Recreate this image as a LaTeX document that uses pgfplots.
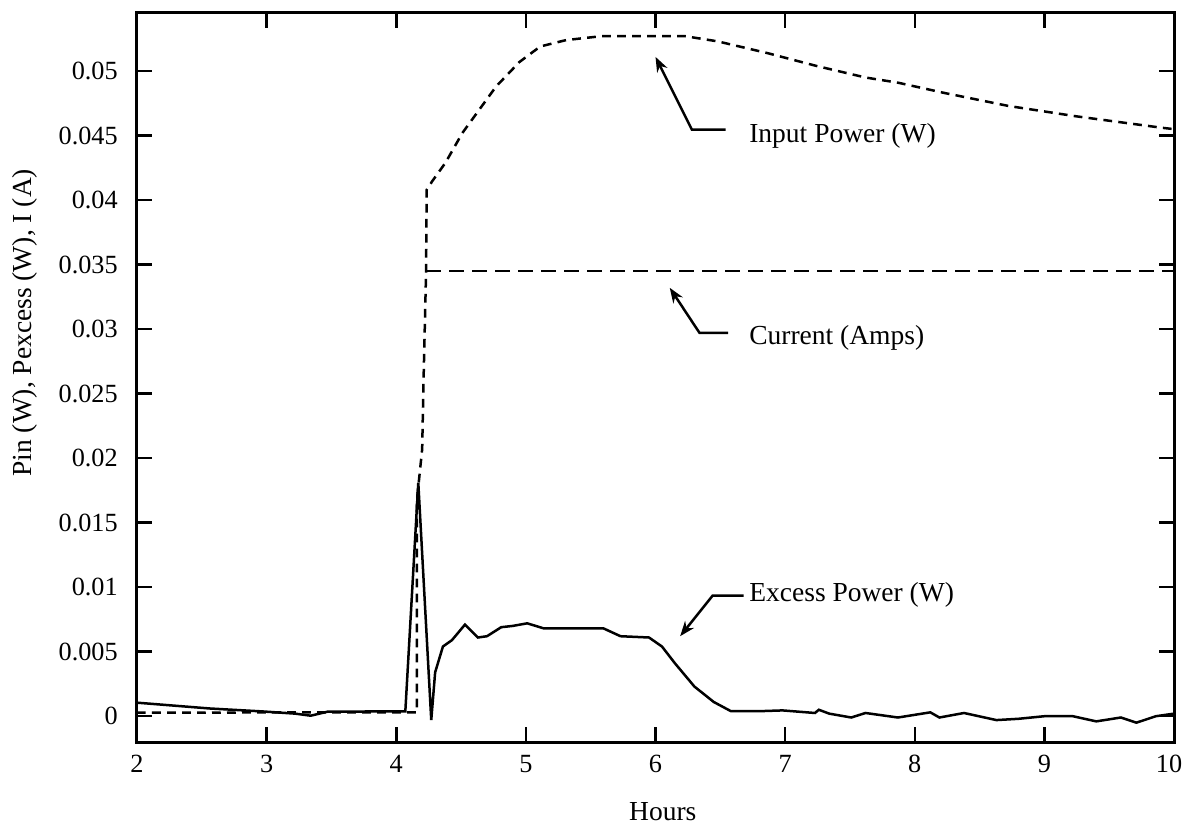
\documentclass[border=0pt]{standalone}
\usepackage{fontspec}
\setmainfont{Liberation Serif}
\usepackage{pgfplots}
\pgfplotsset{compat=1.18}
\usetikzlibrary{arrows.meta}

\begin{document}
\fontsize{10.5pt}{12pt}\selectfont
\begin{tikzpicture}
\begin{axis}[
    scale only axis,
    width=414.8pt, height=291.6pt,
    xmin=2, xmax=10,
    ymin=-0.002, ymax=0.0545,
    xtick={2,3,...,9},
    extra x ticks={10},
    extra x tick style={xticklabel style={xshift=-2pt}},
    ytick={0,0.005,...,0.05},
    scaled y ticks=false,
    tick align=inside,
    major tick length=6pt,
    axis line style={line width=1.2pt},
    every tick/.style={black, line width=1pt},
    /pgf/number format/assume math mode=true,
    yticklabel style={/pgf/number format/fixed, /pgf/number format/precision=3, xshift=-4pt},
    xticklabel style={yshift=-1.7pt},
    tick label style={font=\fontsize{10.5pt}{12pt}\selectfont},
    label style={font=\fontsize{11pt}{13pt}\selectfont},
    xlabel={Hours},
    ylabel={Pin (W), Pexcess (W), I (A)},
    xlabel style={at={(axis description cs:0.507,-0.096)}, anchor=center},
    ylabel style={at={(axis description cs:-0.108,0.575)}, anchor=center},
    clip=false,
]
% input power
\addplot[black, line width=1pt, dash pattern=on 3.5pt off 2.5pt] coordinates {
    (2,0.00027) (2.5,0.00027) (3,0.0003) (3.5,0.0003) (4.0,0.0003) (4.16,0.0003)
    (4.16,0.0168) (4.20,0.0207) (4.21,0.0258) (4.23,0.0344) (4.235,0.0408)
    (4.28,0.0415) (4.38,0.0429) (4.51,0.0452) (4.64,0.0470) (4.77,0.0488)
    (4.95,0.0507) (5.11,0.0519) (5.31,0.0524) (5.58,0.0527) (5.84,0.0527)
    (6.23,0.0527) (6.48,0.0523) (6.86,0.0514) (7.24,0.0504) (7.62,0.0495)
    (7.87,0.0491) (8.23,0.0483) (8.72,0.0473) (9.24,0.0465) (9.91,0.0456)
    (10,0.0455)
};
% current
\addplot[black, line width=1pt, dash pattern=on 6pt off 3.2pt] coordinates {
    (4.23,0.0345) (10,0.0345)
};
% excess power
\addplot[black, line width=1pt] coordinates {
    (2,0.00105) (2.56,0.0006) (2.97,0.00037) (3.22,0.0002) (3.34,0.00004)
    (3.47,0.00035) (3.84,0.00037) (4.07,0.00037) (4.17,0.0181) (4.27,-0.0003)
    (4.30,0.0034) (4.36,0.0054) (4.43,0.0059) (4.53,0.0071) (4.63,0.0061)
    (4.70,0.0062) (4.81,0.0069) (4.90,0.0070) (5.01,0.0072) (5.14,0.0068)
    (5.60,0.0068) (5.73,0.0062) (5.95,0.0061) (6.05,0.0054) (6.15,0.0041)
    (6.30,0.0023) (6.45,0.0011) (6.58,0.0004) (6.83,0.0004) (6.98,0.00045)
    (7.23,0.00025) (7.26,0.0005) (7.34,0.0002) (7.51,-0.0001) (7.62,0.00025)
    (7.87,-0.0001) (8.12,0.0003) (8.19,-0.0001) (8.38,0.00025) (8.63,-0.0003)
    (8.80,-0.0002) (9.0,0.0) (9.22,0.0) (9.40,-0.0004) (9.59,-0.0001)
    (9.71,-0.0005) (9.86,0.0) (10,0.0002)
};
% annotations
\draw[line width=1pt, {Stealth[length=6pt,width=4.5pt]}-] (axis cs:6.0,0.0511) -- (axis cs:6.28,0.04547) -- (axis cs:6.54,0.04547);
\node[anchor=west, inner sep=0pt, font=\fontsize{11pt}{13pt}\selectfont] at (axis cs:6.72,0.0450) {Input Power (W)};
\draw[line width=1pt, {Stealth[length=6pt,width=4.5pt]}-] (axis cs:6.11,0.0332) -- (axis cs:6.34,0.0297) -- (axis cs:6.56,0.0297);
\node[anchor=west, inner sep=0pt, font=\fontsize{11pt}{13pt}\selectfont] at (axis cs:6.72,0.0293) {Current (Amps)};
\draw[line width=1pt, {Stealth[length=6pt,width=4.5pt]}-] (axis cs:6.19,0.0062) -- (axis cs:6.44,0.00934) -- (axis cs:6.68,0.00934);
\node[anchor=west, inner sep=0pt, font=\fontsize{11pt}{13pt}\selectfont] at (axis cs:6.72,0.0094) {Excess Power (W)};
\end{axis}
\pgfresetboundingbox
\path ([shift={(-54.8pt,-33.2pt)}]current axis.south west) rectangle ([shift={(4.4pt,5.2pt)}]current axis.north east);
\end{tikzpicture}
\end{document}
